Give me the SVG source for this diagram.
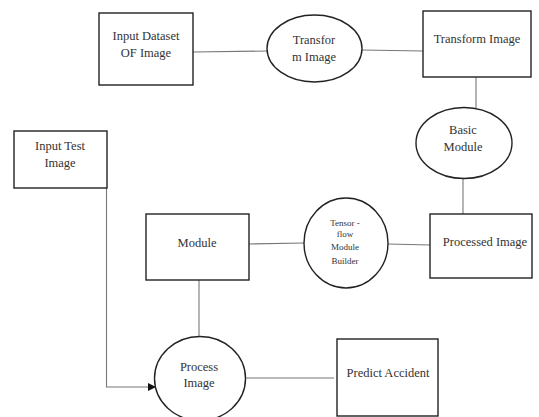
<svg xmlns="http://www.w3.org/2000/svg" width="539" height="417" viewBox="0 0 539 417">
<style>
.n{fill:#fff;stroke:#222;stroke-width:1.4}
.t{font-family:"Liberation Serif","DejaVu Serif",serif;font-size:12.5px;fill:#333;text-anchor:middle}
.s{font-size:9px}
.c{stroke:#777;stroke-width:1.1;fill:none}
</style>
<defs>
<marker id="ah" markerWidth="8" markerHeight="8" refX="7" refY="4" orient="auto" markerUnits="userSpaceOnUse">
<path d="M0,0 L8,4 L0,8 Z" fill="#111"/>
</marker>
</defs>
<rect width="539" height="417" fill="#fff"/>
<g id="connectors">
<line class="c" x1="193" y1="52" x2="267" y2="51"/>
<line class="c" x1="362" y1="50" x2="423" y2="51"/>
<line class="c" x1="476" y1="77" x2="476" y2="108"/>
<line class="c" x1="463" y1="178" x2="463" y2="214"/>
<line class="c" x1="249" y1="244" x2="304" y2="243"/>
<line class="c" x1="388" y1="244" x2="430" y2="245"/>
<line class="c" x1="199" y1="280" x2="199" y2="337"/>
<line class="c" x1="245" y1="378" x2="334" y2="378"/>
<polyline class="c" points="106.5,188 106.5,387 155,387" marker-end="url(#ah)"/>
</g>
<g id="input-dataset">
<rect class="n" x="99" y="13" width="94" height="72"/>
<text class="t" x="146" y="40">Input Dataset</text>
<text class="t" x="146" y="57">OF Image</text>
</g>
<g id="transform-op">
<ellipse class="n" cx="314.5" cy="48.5" rx="47.5" ry="33.5"/>
<text class="t" x="314" y="44">Transfor</text>
<text class="t" x="314" y="61">m Image</text>
</g>
<g id="transform-image">
<rect class="n" x="423" y="11" width="108" height="66"/>
<text class="t" x="477" y="43">Transform Image</text>
</g>
<g id="basic-module">
<ellipse class="n" cx="464" cy="143" rx="48" ry="35.5"/>
<text class="t" x="463" y="134">Basic</text>
<text class="t" x="463" y="151">Module</text>
</g>
<g id="input-test">
<rect class="n" x="14" y="131" width="93" height="57"/>
<text class="t" x="60" y="150">Input Test</text>
<text class="t" x="60" y="167">Image</text>
</g>
<g id="module">
<rect class="n" x="146" y="214" width="103" height="66"/>
<text class="t" x="197" y="247">Module</text>
</g>
<g id="tensorflow">
<ellipse class="n" cx="346" cy="243" rx="42" ry="45"/>
<text class="t s" x="345" y="226">Tensor -</text>
<text class="t s" x="345" y="237">flow</text>
<text class="t s" x="345" y="250">Module</text>
<text class="t s" x="345" y="264">Builder</text>
</g>
<g id="processed-image">
<rect class="n" x="430" y="214" width="102" height="64"/>
<text class="t" x="485" y="246">Processed Image</text>
</g>
<g id="process-image">
<ellipse class="n" cx="200" cy="378.5" rx="45.5" ry="42"/>
<text class="t" x="199" y="371">Process</text>
<text class="t" x="199" y="387">Image</text>
</g>
<g id="predict-accident">
<rect class="n" x="337" y="339" width="101" height="77"/>
<text class="t" x="388" y="377">Predict Accident</text>
</g>
</svg>
